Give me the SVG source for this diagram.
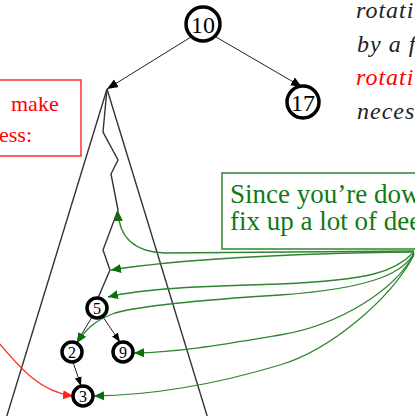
<svg xmlns="http://www.w3.org/2000/svg" width="415" height="416" viewBox="0 0 415 416">
<style>
.node circle{fill:#fff;stroke:#000;stroke-width:3.5}
.node text{font-family:"Liberation Serif",serif;fill:#000;text-anchor:middle}
.big text{font-size:24px}
.small text{font-size:16px}
.edge{stroke:#222;stroke-width:1;fill:none}
.tri{stroke:#333;stroke-width:1.4;fill:none}
.g{stroke:#2e862e;stroke-width:1.3;fill:none}
.r{stroke:#ff3030;stroke-width:1.3;fill:none}
.serif{font-family:"Liberation Serif",serif}
.ital{font-family:"Liberation Serif",serif;font-style:italic;font-size:24px;letter-spacing:1px}
</style>
<defs>
<marker id="ab" markerUnits="userSpaceOnUse" markerWidth="12" markerHeight="10" refX="11" refY="5" orient="auto"><path d="M0,0.5 L11,5 L0,9.5 Z" fill="#000"/></marker>
<marker id="abs" markerUnits="userSpaceOnUse" markerWidth="10" markerHeight="8" refX="9" refY="4" orient="auto"><path d="M0,0.5 L9,4 L0,7.5 Z" fill="#000"/></marker>
<marker id="ag" markerUnits="userSpaceOnUse" markerWidth="11" markerHeight="10" refX="10" refY="5" orient="auto"><path d="M0,0.5 L10,5 L0,9.5 Z" fill="#0b6e0b"/></marker>
<marker id="ar" markerUnits="userSpaceOnUse" markerWidth="11" markerHeight="10" refX="10" refY="5" orient="auto"><path d="M0,0.5 L10,5 L0,9.5 Z" fill="#ff2020"/></marker>
</defs>

<g id="notes">
<text class="ital" x="356" y="18" fill="#222">rotati</text>
<text class="ital" x="357" y="52" fill="#222">by a f</text>
<text class="ital" x="356" y="85" fill="#ff0000">rotati</text>
<text class="ital" x="357" y="119" fill="#222">neces</text>
</g>

<g id="redbox">
<rect x="-2" y="80" width="83" height="76" fill="#fff" stroke="#ff3030" stroke-width="1.5"/>
<text class="serif" x="11" y="111" font-size="22" fill="#ff0000">make</text>
<text class="serif" x="-1" y="142" font-size="22" fill="#ff0000">ess:</text>
</g>

<g id="greenbox">
<rect x="222" y="173" width="200" height="76" fill="#fff" stroke="#2e862e" stroke-width="1.5"/>
<text class="serif" x="230" y="203" font-size="27" fill="#117a11">Since you’re dow</text>
<text class="serif" x="230" y="230" font-size="27" fill="#117a11">fix up a lot of dee</text>
</g>

<g id="subtree">
<path class="tri" d="M107,89 L5,422"/>
<path class="tri" d="M107,89 L209,422"/>
<path class="tri" d="M107,89 L103,132 L118,160 L111,174 L118,210 L103,250 L110,270 L98,298"/>
</g>

<g id="connectors">
<line class="edge" x1="191" y1="37" x2="107" y2="89" marker-end="url(#ab)"/>
<line class="edge" x1="216" y1="37" x2="302" y2="87" marker-end="url(#ab)"/>
<line class="edge" x1="92" y1="317" x2="77" y2="342" marker-end="url(#abs)"/>
<line class="edge" x1="103" y1="317" x2="120" y2="342" marker-end="url(#abs)"/>
<line class="edge" x1="73" y1="362" x2="81" y2="386" marker-end="url(#abs)"/>
<path class="g" d="M414,251 C320,252 230,253 165,253 C132,252 119,236 118,211" marker-end="url(#ag)"/>
<path class="g" d="M414,252 C330,253 200,256 111,270" marker-end="url(#ag)"/>
<path class="g" d="M414,252 C395,272 370,280 280,284 C200,286 140,289 108,297" marker-end="url(#ag)"/>
<path class="g" d="M414,253 C405,270 380,288 280,295 C200,300 140,306 115,313 C95,320 85,330 77,343" marker-end="url(#ag)"/>
<path class="g" d="M414,254 C395,290 340,325 280,335 C220,345 180,352 134,353" marker-end="url(#ag)"/>
<path class="g" d="M414,255 C390,300 330,350 280,365 C220,383 160,395 94,396" marker-end="url(#ag)"/>
<path class="r" d="M-2,342 C20,368 40,392 73,396" marker-end="url(#ar)"/>
</g>

<g id="n10" class="node big"><circle cx="203" cy="24" r="17"/><text x="203" y="33">10</text></g>
<g id="n17" class="node big"><circle cx="303" cy="102" r="16"/><text x="303" y="111">17</text></g>
<g id="n5" class="node small"><circle cx="97" cy="308" r="10"/><text x="97" y="314">5</text></g>
<g id="n2" class="node small"><circle cx="72" cy="352" r="10"/><text x="72" y="358">2</text></g>
<g id="n9" class="node small"><circle cx="123" cy="352" r="10"/><text x="123" y="358">9</text></g>
<g id="n3" class="node small"><circle cx="83" cy="396" r="10"/><text x="83" y="402">3</text></g>
</svg>
